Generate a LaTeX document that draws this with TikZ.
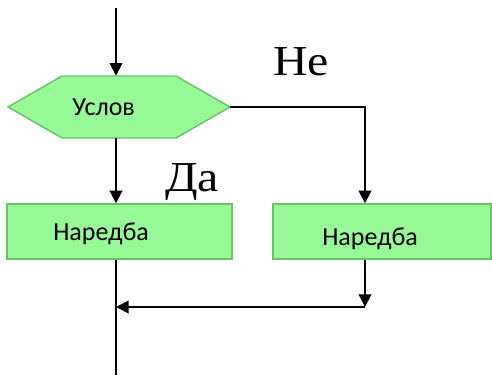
\documentclass[tikz,border=0pt]{standalone}
\usepackage{fontspec}
\setmainfont{Liberation Serif}
\setsansfont{Carlito}
\usetikzlibrary{arrows.meta}
\definecolor{boxfill}{RGB}{152,250,150}
\definecolor{boxline}{RGB}{105,195,105}
\tikzset{
  conn/.style={line width=1.4pt, black},
  arr/.style={conn, -{Triangle[width=9.5pt,length=9.5pt]}},
  greenbox/.style={draw=boxline, line width=1.1pt, fill=boxfill, rectangle, inner sep=0pt},
  boxtext/.style={font=\sffamily\fontsize{19.5}{22}\selectfont, inner sep=0pt, anchor=base west},
  yesno/.style={font=\rmfamily\fontsize{32}{36}\selectfont, inner sep=0pt, anchor=base west, xscale=1.12},
}
\begin{document}
\begin{tikzpicture}[x=0.75pt,y=-0.75pt]
\useasboundingbox (0,0) rectangle (492,375);
% hexagon
\node[inner sep=0pt, minimum width=166.5pt, minimum height=46.5pt] (c) at (119,107) {};
\fill[boxfill] (8,107) -- (62,76) -- (176,76) -- (230,107) -- (176,138) -- (62,138) -- cycle;
\draw[boxline, line width=1.1pt] (8,107) -- (62,76) -- (176,76) -- (230,107) -- (176,138) -- (62,138) -- cycle;
\node[boxtext] (ct) at (72,115) {Услов};
% boxes
\node[greenbox, minimum width=168.75pt, minimum height=41.25pt] (b1) at (119.5,231.5) {};
\node[boxtext] (b1t) at (53,240) {Наредба};
\node[greenbox, minimum width=163.5pt, minimum height=41.25pt] (b2) at (382,231.5) {};
\node[boxtext] (b2t) at (322,245) {Наредба};
% labels
\node[yesno] (no) at (273,75) {Не};
\node[yesno] (yes) at (165,191) {Да};
% coordinates
\coordinate (start) at (116,8);
\coordinate (rc) at (365,107);
\coordinate (mr) at (365,307);
\coordinate (ml) at (116,307);
\coordinate (end) at (116,375);
% connectors
\draw[arr] (start) -- (start |- c.north);
\draw[arr] (start |- c.south) -- (start |- b1.north);
\draw[arr] (c.east) -- (rc) -- (rc |- b2.north);
\draw[arr] (rc |- b2.south) -- (mr);
\draw[arr] (mr) -- (ml);
\draw[conn] (start |- b1.south) -- (end);
\end{tikzpicture}
\end{document}
